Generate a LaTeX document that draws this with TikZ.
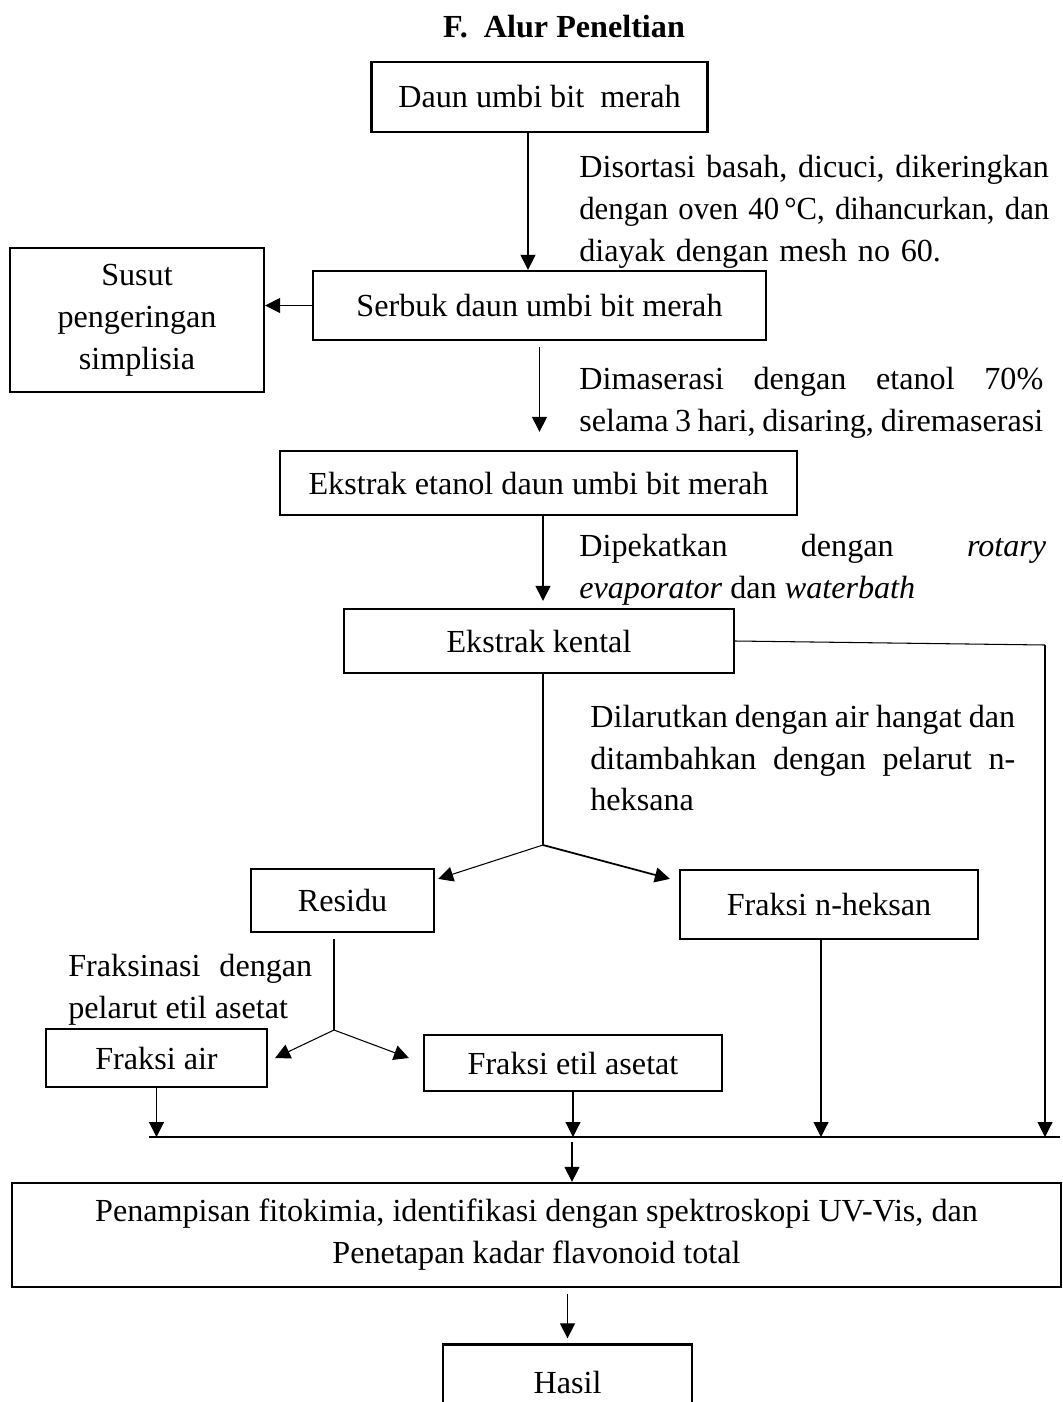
\documentclass[tikz,border=0pt]{standalone}
\usepackage{fontspec}
\setmainfont{Liberation Serif}
\usetikzlibrary{arrows.meta}
\hyphenpenalty=10000

\begin{document}
\begin{tikzpicture}[x=0.02cm, y=-0.02cm,
    font=\fontsize{18.3}{23.9}\selectfont,
    box/.style={draw, line width=1.3pt, align=center, inner sep=0pt},
    note/.style={align=justify, anchor=west, inner sep=0pt},
    arr/.style={-{Triangle[length=0.3cm, width=0.3cm]}, line width=0.6pt},
    ln/.style={line width=0.6pt}]
    \useasboundingbox (0,0) rectangle (1062,1402);

    \node (title) at (564,27) {\bfseries F.\ \ Alur Peneltian};

    \node[box, minimum width=6.72cm, minimum height=1.4cm] (daun) at (539.5,97) {Daun umbi bit\ \ merah};
    \node[box, minimum width=9.06cm, minimum height=1.38cm] (serbuk) at (539.5,305.5) {Serbuk daun umbi bit merah};
    \node[box, minimum width=5.08cm, minimum height=2.88cm] (susut) at (137,320) {Susut\\pengeringan\\simplisia};
    \node[box, minimum width=10.34cm, minimum height=1.28cm] (ekstrak) at (538.5,483) {Ekstrak etanol daun umbi bit merah};
    \node[box, minimum width=7.8cm, minimum height=1.28cm] (kental) at (539,641) {Ekstrak kental};
    \node[box, minimum width=3.66cm, minimum height=1.26cm] (residu) at (342.5,900.5) {Residu};
    \node[box, minimum width=5.96cm, minimum height=1.38cm] (heksan) at (829,904.5) {Fraksi n-heksan};
    \node[box, minimum width=4.42cm, minimum height=1.16cm] (air) at (156.5,1058) {Fraksi air};
    \node[box, minimum width=5.96cm, minimum height=1.12cm] (etil) at (573,1063) {Fraksi etil asetat};
    \node[box, minimum width=20.98cm, minimum height=2.08cm] (uji) at (536.5,1235) {Penampisan fitokimia, identifikasi dengan spektroskopi UV-Vis, dan\\Penetapan kadar flavonoid total};
    \node[box, minimum width=4.98cm, minimum height=1.5cm] (hasil) at (567.5,1382) {Hasil};

    \node[note, align=left, text width=9.4cm] (t1) at (579,212) {\makebox[9.4cm][s]{Disortasi basah, dicuci, dikeringkan}\\
      \resizebox{9.4cm}{\height}{dengan oven 40\,°C, dihancurkan, dan}\\
      diayak dengan mesh no 60.};
    \node[note, text width=9.28cm] (t2) at (579,403) {Dimaserasi dengan etanol 70\%\linebreak selama 3 hari, disaring, diremaserasi};
    \node[note, text width=9.34cm] (t3) at (579,570) {Dipekatkan dengan \textit{rotary}\linebreak \textit{evaporator} dan \textit{waterbath}};
    \node[note, text width=8.5cm] (t4) at (590,758) {Dilarutkan dengan air hangat dan\linebreak ditambahkan dengan pelarut n-\linebreak heksana};
    \node[note, text width=4.88cm] (t5) at (68,990) {Fraksinasi dengan\linebreak pelarut etil asetat};

    \coordinate (rc) at (1045,645);
    \coordinate (pisah1) at (543,845);
    \coordinate (pisah2) at (334,1030);
    \coordinate (busL) at (149,1137);
    \coordinate (busR) at (1060,1137);
    \coordinate (busM) at (572,1142);

    \draw[arr] ([xshift=-0.23cm]daun.south) -- ([xshift=-0.23cm]serbuk.north);
    \draw[arr] (serbuk.west) -- (serbuk.west -| susut.east);
    \draw[arr, shorten <=0.12cm, shorten >=0.36cm] (serbuk.south) -- (serbuk.south |- ekstrak.north);
    \draw[arr, shorten >=0.14cm] ([xshift=0.09cm]ekstrak.south) -- ([xshift=0.09cm]ekstrak.south |- kental.north);
    \draw[ln] (kental.east) -- (rc);
    \draw[arr] (rc) -- (rc |- busR);
    \draw[ln] (kental.south -| pisah1) -- (pisah1);
    \draw[arr] (pisah1) -- ([xshift=0.06cm, yshift=-0.22cm]residu.north east);
    \draw[arr, line width=1pt] (pisah1) -- ([xshift=-0.18cm, yshift=-0.2cm]heksan.north west);
    \draw[ln, shorten <=0.12cm] (residu.south -| pisah2) -- (pisah2);
    \draw[arr] (pisah2) -- ([xshift=0.14cm]air.east);
    \draw[arr] (pisah2) -- ([xshift=-0.28cm, yshift=0.1cm]etil.west);
    \draw[arr] (air.south) -- (air.south |- busL);
    \draw[arr] (etil.south) -- (etil.south |- busL);
    \draw[arr] ([xshift=-0.16cm]heksan.south) -- ([xshift=-0.16cm]heksan.south |- busL);
    \draw[ln] (busL) -- (busR);
    \draw[arr] (busM) -- (busM |- uji.north);
    \draw[arr, shorten <=0.12cm, shorten >=0.1cm] (hasil.north |- uji.south) -- (hasil.north);
\end{tikzpicture}
\end{document}
